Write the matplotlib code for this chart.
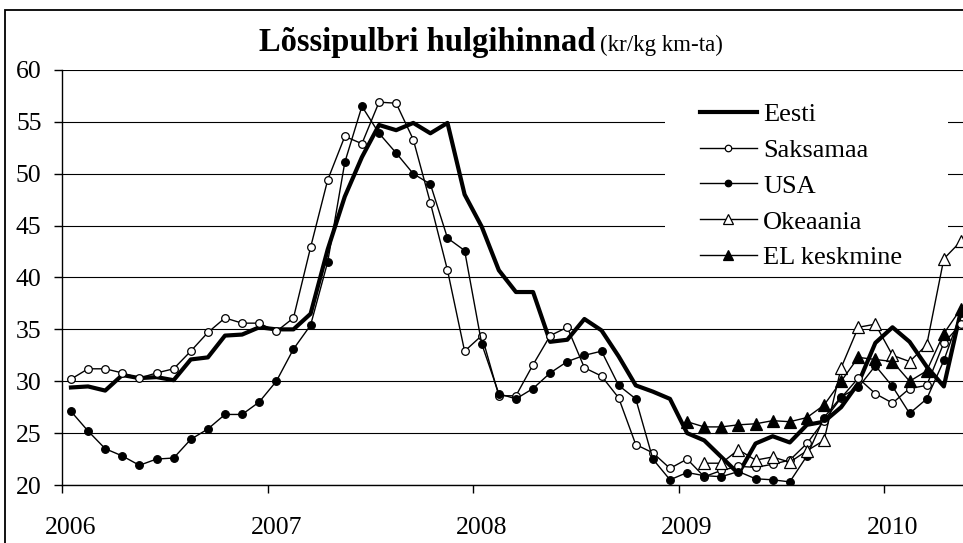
import numpy as np
import matplotlib
matplotlib.use("Agg")
import matplotlib.pyplot as plt
from matplotlib.patches import Rectangle

nan = np.nan

# monthly prices, Jan 2006 .. May 2010 (kr/kg)
years = ["2006", "2007", "2008", "2009", "2010"]

eesti = [29.4, 29.5, 29.1, 30.6, 30.3, 30.4, 30.1, 32.1, 32.3, 34.4, 34.5, 35.2,
         35.0, 35.0, 36.5, 42.7, 47.8, 51.6, 54.7, 54.2, 54.9, 53.9, 54.9, 48.0,
         44.9, 40.7, 38.6, 38.6, 33.8, 34.0, 36.0, 34.9, 32.4, 29.6, 29.0, 28.3,
         25.0, 24.3, 22.7, 21.1, 24.0, 24.7, 24.1, 25.8, 26.1, 27.5, 29.8, 33.7,
         35.2, 33.8, 31.4, 29.5, 36.8]

saksamaa = [30.2, 31.2, 31.2, 30.8, 30.3, 30.8, 31.2, 32.9, 34.7, 36.1, 35.6, 35.6,
            34.8, 36.1, 42.9, 49.4, 53.6, 52.9, 56.9, 56.8, 53.3, 47.2, 40.7, 32.9,
            34.4, 28.6, 28.6, 31.6, 34.4, 35.2, 31.3, 30.5, 28.4, 23.9, 23.1, 21.6,
            22.5, 20.8, 21.4, 21.8, 21.7, 22.0, 22.4, 24.0, 26.2, 28.4, 30.3, 28.8,
            27.9, 29.3, 29.6, 33.7, 35.5]

usa = [27.1, 25.2, 23.5, 22.8, 21.9, 22.5, 22.6, 24.4, 25.4, 26.8, 26.8, 28.0,
       30.0, 33.1, 35.4, 41.5, 51.1, 56.5, 53.9, 52.0, 50.0, 49.0, 43.8, 42.6,
       33.6, 28.8, 28.3, 29.3, 30.8, 31.9, 32.5, 32.9, 29.6, 28.3, 22.5, 20.5,
       21.2, 20.9, 20.8, 21.3, 20.6, 20.5, 20.3, 22.8, 26.5, 28.5, 29.4, 31.5,
       29.5, 26.9, 28.3, 32.0, 36.6]

# Okeaania from Feb 2009, EL keskmine from Jan 2009
okeaania_start = 37
okeaania = [22.1, 22.1, 23.4, 22.4, 22.7, 22.2, 23.3, 24.3, 31.3, 35.2, 35.5,
            32.5, 31.9, 33.5, 41.8, 43.5]

el_start = 36
el_keskmine = [26.1, 25.6, 25.6, 25.8, 25.9, 26.2, 26.1, 26.5, 27.7, 30.0, 32.3,
               32.1, 31.9, 30.0, 31.0, 34.6, 37.0]

plt.rcParams["font.family"] = ["Liberation Serif", "DejaVu Serif"]

W, H = 963, 543
fig = plt.figure(figsize=(W / 100, H / 100), dpi=100)
left = 62.4 / W
ax = fig.add_axes([left, 58 / H, 1 - left, 415 / H])

x = np.arange(len(eesti))
x_ok = np.arange(okeaania_start, okeaania_start + len(okeaania))
x_el = np.arange(el_start, el_start + len(el_keskmine))

ax.plot(x, eesti, color="black", lw=3.0, label="Eesti", zorder=3)
ax.plot(x, saksamaa, color="black", lw=1.0, marker="o", ms=5.5, mfc="white",
        mec="black", mew=0.9, label="Saksamaa", zorder=4)
ax.plot(x, usa, color="black", lw=1.0, marker="o", ms=5.5, mfc="black",
        mec="black", mew=0.9, label="USA", zorder=5)
ax.plot(x_ok, okeaania, color="black", lw=1.0, marker="^", ms=8, mfc="white",
        mec="black", mew=0.9, label="Okeaania", zorder=6)
ax.plot(x_el, el_keskmine, color="black", lw=1.0, marker="^", ms=8, mfc="black",
        mec="black", mew=0.9, label="EL keskmine", zorder=7)

ax.set_xlim(-0.5, 52.12)
ax.set_ylim(20, 60)

ax.set_yticks(range(20, 61, 5))
ax.yaxis.grid(True, color="black", lw=0.8)
ax.set_axisbelow(True)
ax.tick_params(axis="y", direction="out", length=6, width=1, pad=9, labelsize=18.5)

# year boundaries as ticks, year names centred on January
ax.set_xticks([-0.5, 11.5, 23.5, 35.5, 47.5])
ax.set_xticklabels([])
ax.set_xticks([0, 12, 24, 36, 48], minor=True)
ax.set_xticklabels(years, minor=True)
ax.tick_params(axis="x", which="major", direction="out", length=6, width=1)
ax.tick_params(axis="x", which="minor", length=0, pad=23, labelsize=18.5)

for s in ["top", "right"]:
    ax.spines[s].set_visible(False)
ax.spines["left"].set_linewidth(1)
ax.spines["bottom"].set_linewidth(1)

# white legend area hiding the gridlines
ax.add_patch(Rectangle((665 / W, 1 - 272 / H), 283 / W, 190 / H,
                       transform=fig.transFigure, facecolor="white",
                       edgecolor="none", zorder=2))
ax.legend(loc="center left", bbox_to_anchor=(700 / W, 1 - 186 / H),
          bbox_transform=fig.transFigure, frameon=False, fontsize=19,
          handlelength=2.15, handletextpad=0.25, labelspacing=0.47,
          borderpad=0, borderaxespad=0, markerscale=0.85)

# chart border (continues past the cropped right and bottom edges)
fig.patches.append(Rectangle((5 / W, -0.2), 1.5, 0.2 + 1 - 10 / H,
                             transform=fig.transFigure, fill=False,
                             edgecolor="black", lw=1.3))

fig.text(595 / W, 1 - 51 / H, "Lõssipulbri hulgihinnad", ha="right",
         va="baseline", fontsize=23.5, fontweight="bold")
fig.text(600 / W, 1 - 51 / H, "(kr/kg km-ta)", ha="left", va="baseline",
         fontsize=16.5)

fig.savefig("out.png", dpi=100)
